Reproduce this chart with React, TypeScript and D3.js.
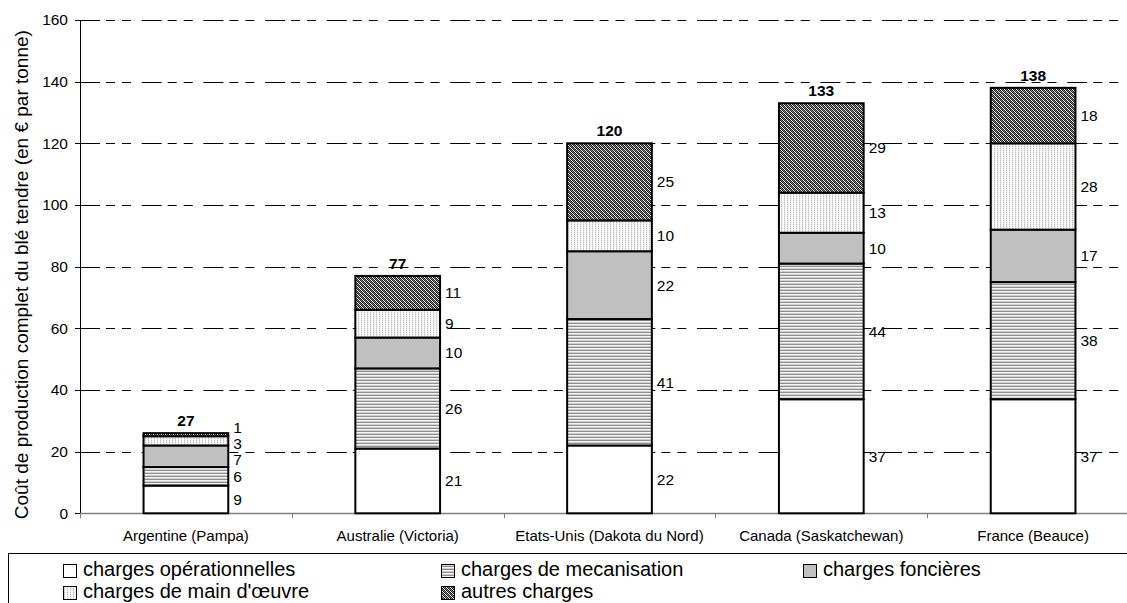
import React from "react";
import * as d3 from "d3";

// Production cost breakdown of soft wheat (€ per tonne) by producing region
const categories = [
  "Argentine (Pampa)",
  "Australie (Victoria)",
  "Etats-Unis (Dakota du Nord)",
  "Canada (Saskatchewan)",
  "France (Beauce)",
];
const operationnelles = [9, 21, 22, 37, 37];
const mecanisation = [6, 26, 41, 44, 38];
const foncieres = [7, 10, 22, 10, 17];
const mainOeuvre = [3, 9, 10, 13, 28];
const autres = [1, 11, 25, 29, 18];
const totals = [27, 77, 120, 133, 138];
const yTicks = [0, 20, 40, 60, 80, 100, 120, 140, 160];

const seriesKeys = ["ope", "meca", "fonc", "mo", "autres"];
const seriesNames = [
  "charges opérationnelles",
  "charges de mecanisation",
  "charges foncières",
  "charges de main d'œuvre",
  "autres charges",
];
const seriesValues = [operationnelles, mecanisation, foncieres, mainOeuvre, autres];
const seriesFill = [
  "#ffffff",
  "url(#pat-meca)",
  "#c0c0c0",
  "url(#pat-mo)",
  "url(#pat-autres)",
];

const W = 1127;
const H = 603;
const FONT = "'Liberation Sans', Arial, Helvetica, sans-serif";
const left = 80;
const right = 1139;
const top = 20;
const bottom = 513.3;

// push overlapping value labels apart (ordered bottom to top)
function spread(ys: number[], gap: number): number[] {
  const a = ys.slice();
  for (let it = 0; it < 200; it++) {
    let moved = false;
    for (let i = 0; i < a.length - 1; i++) {
      const diff = a[i] - a[i + 1];
      if (diff < gap - 0.01) {
        const d = (gap - diff) / 2;
        a[i] += d;
        a[i + 1] -= d;
        moved = true;
      }
    }
    if (!moved) break;
  }
  return a;
}

export default function App() {
  const rows = categories.map((c, i) => {
    const r: Record<string, any> = { cat: c };
    seriesKeys.forEach((k, j) => (r[k] = seriesValues[j][i]));
    return r;
  });
  const stacked = d3.stack<any>().keys(seriesKeys)(rows);

  const x = d3
    .scaleBand<string>()
    .domain(categories)
    .range([left, right])
    .paddingInner(0.6)
    .paddingOuter(0.3);
  const y = d3.scaleLinear().domain([0, 160]).range([bottom, top]);
  const step = x.step();
  const bw = x.bandwidth();

  // value label positions per category
  const labelYs = categories.map((_, i) => {
    const centers = stacked.map((s) => y((s[i][0] + s[i][1]) / 2));
    return spread(centers, 16);
  });

  const legendCols = [63, 441, 803];
  const legendRows = [564, 586];
  const legendPos = [
    [0, 0],
    [1, 0],
    [2, 0],
    [0, 1],
    [1, 1],
  ];

  // fine dark checker with a light diagonal for "autres charges"
  const autresCells = d3.range(16).map((k) => {
    const px = k % 4;
    const py = Math.floor(k / 4);
    let c = "#ffffff";
    if ((px + py) % 2 === 0) c = "#1e1e1e";
    else if ((((px - py) % 4) + 4) % 4 === 1) c = "#808080";
    return { px, py, c };
  });

  return (
    <svg
      width={W}
      height={H}
      style={{ position: "absolute", left: 0, top: 0, background: "#fff" }}
      fontFamily={FONT}
    >
      <defs>
        <pattern id="pat-meca" width="4" height="3" patternUnits="userSpaceOnUse">
          <rect width="4" height="1" y="0" fill="#f4f4f4" />
          <rect width="4" height="1" y="1" fill="#d0d0d0" />
          <rect width="4" height="1" y="2" fill="#8e8e8e" />
        </pattern>
        <pattern id="pat-mo" width="3" height="2" patternUnits="userSpaceOnUse">
          <rect width="3" height="2" fill="#ffffff" />
          <rect x="1" y="0" width="1" height="1" fill="#bcbcbc" />
          <rect x="1" y="1" width="1" height="1" fill="#e4e4e4" />
          <rect x="2" y="0" width="1" height="2" fill="#f4f4f4" />
        </pattern>
        <pattern id="pat-autres" width="4" height="4" patternUnits="userSpaceOnUse">
          {autresCells.map((d, k) => (
            <rect key={k} x={d.px} y={d.py} width="1" height="1" fill={d.c} />
          ))}
        </pattern>
      </defs>

      {/* horizontal gridlines */}
      {yTicks
        .filter((t) => t > 0)
        .map((t) => (
          <line
            key={"g" + t}
            x1={left}
            x2={W}
            y1={Math.round(y(t)) + 0.5}
            y2={Math.round(y(t)) + 0.5}
            stroke="#000"
            strokeWidth={1}
            strokeDasharray="20,6,9,7,9,10.7"
          />
        ))}

      {/* y axis */}
      <line x1={left + 0.5} x2={left + 0.5} y1={top} y2={bottom} stroke="#000" strokeWidth={1} />
      {yTicks.map((t) => (
        <g key={"t" + t}>
          <line
            x1={left - 5}
            x2={left}
            y1={Math.round(y(t)) + 0.5}
            y2={Math.round(y(t)) + 0.5}
            stroke="#000"
            strokeWidth={1}
          />
          <text x={68} y={y(t)} dy="0.35em" textAnchor="end" fontSize={15.5} fill="#000">
            {t}
          </text>
        </g>
      ))}
      <text
        transform={`translate(28, ${(top + bottom) / 2 + 8}) rotate(-90)`}
        textAnchor="middle"
        fontSize={19}
        fill="#000"
      >
        Coût de production complet du blé tendre (en € par tonne)
      </text>

      {/* x axis */}
      <line x1={left} x2={W} y1={Math.round(bottom) + 0.5} y2={Math.round(bottom) + 0.5} stroke="#808080" strokeWidth={1.5} />
      {d3.range(categories.length + 1).map((i) => (
        <line
          key={"xt" + i}
          x1={Math.round(left + i * step) + 0.5}
          x2={Math.round(left + i * step) + 0.5}
          y1={bottom}
          y2={bottom + 5}
          stroke="#808080"
          strokeWidth={1}
        />
      ))}
      {categories.map((c) => (
        <text
          key={"xl" + c}
          x={(x(c) as number) + bw / 2}
          y={541}
          textAnchor="middle"
          fontSize={15}
          fill="#000"
        >
          {c}
        </text>
      ))}

      {/* stacked bars */}
      {stacked.map((s, j) => (
        <g key={"s" + j}>
          {s.map((d, i) => (
            <rect
              key={i}
              x={x(categories[i]) as number}
              width={bw}
              y={y(d[1])}
              height={y(d[0]) - y(d[1])}
              fill={seriesFill[j]}
              stroke="#000"
              strokeWidth={2}
            />
          ))}
        </g>
      ))}

      {/* segment value labels */}
      {categories.map((c, i) =>
        stacked.map((s, j) => (
          <text
            key={"v" + i + "-" + j}
            x={(x(c) as number) + bw + 5}
            y={labelYs[i][j]}
            dy="0.35em"
            fontSize={15.5}
            fill="#000"
          >
            {seriesValues[j][i]}
          </text>
        ))
      )}

      {/* totals */}
      {categories.map((c, i) => (
        <text
          key={"tot" + i}
          x={(x(c) as number) + bw / 2}
          y={y(stacked[stacked.length - 1][i][1]) - 7}
          textAnchor="middle"
          fontSize={15.5}
          fontWeight="bold"
          fill="#000"
        >
          {totals[i]}
        </text>
      ))}

      {/* legend */}
      <rect x={8.5} y={553.5} width={W} height={60} fill="none" stroke="#000" strokeWidth={1} />
      {seriesNames.map((n, j) => {
        const [cx, ry] = legendPos[j];
        const lx = legendCols[cx];
        const ly = legendRows[ry];
        return (
          <g key={"lg" + j}>
            <rect x={lx + 0.5} y={ly + 0.5} width={13} height={13} fill={seriesFill[j]} stroke="#000" strokeWidth={1} />
            <text x={lx + 20} y={ly + 12} fontSize={20} fill="#000">
              {n}
            </text>
          </g>
        );
      })}
    </svg>
  );
}
